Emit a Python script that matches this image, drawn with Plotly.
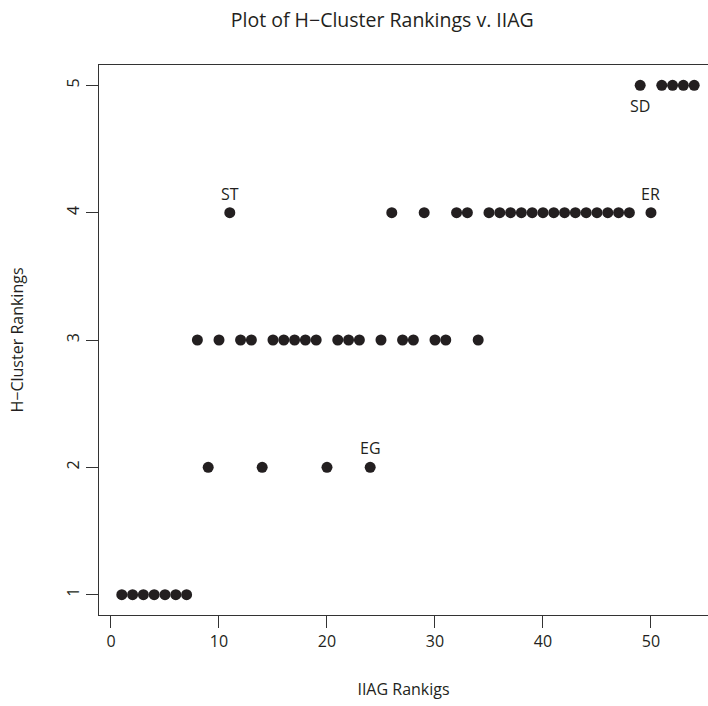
import plotly.graph_objects as go

# IIAG ranking (x) and hierarchical-cluster ranking (y) for each country
iiag_rank = list(range(1, 55))
cluster_rank = [
    1, 1, 1, 1, 1, 1, 1,          # 1-7
    3, 2, 3, 4, 3, 3, 2, 3, 3,    # 8-16
    3, 3, 3, 2, 3, 3, 3, 2, 3,    # 17-25
    4, 3, 3, 4, 3, 3, 4, 4, 3,    # 26-34
    4, 4, 4, 4, 4, 4, 4, 4, 4,    # 35-43
    4, 4, 4, 4, 4, 5, 4, 5, 5,    # 44-52
    5, 5,                         # 53-54
]

# Labelled countries: (code, IIAG rank, placement)
labels = [("ST", 11, "above"), ("EG", 24, "above"), ("ER", 50, "above"), ("SD", 49, "below")]

ink = "#231f20"
font_family = "Open Sans"

fig = go.Figure()
fig.add_trace(go.Scatter(
    x=iiag_rank, y=cluster_rank, mode="markers",
    marker=dict(size=11, color=ink, line=dict(width=0)),
    hoverinfo="x+y", showlegend=False,
))

for code, xr, where in labels:
    yv = cluster_rank[xr - 1]
    fig.add_annotation(
        x=xr, y=yv, text=code, showarrow=False,
        yshift=19 if where == "above" else -21,
        font=dict(family=font_family, size=16, color=ink),
    )

fig.update_layout(
    width=708, height=706,
    margin=dict(l=99, r=0, t=65, b=91),
    paper_bgcolor="white", plot_bgcolor="white",
    font=dict(family=font_family, size=16, color=ink),
    title=dict(text="Plot of H\u2212Cluster Rankings v. IIAG", x=0.54, xanchor="center",
               y=0.972, yanchor="middle", font=dict(size=19.5, color=ink)),
    xaxis=dict(
        range=[-1.11, 55.28], tickvals=[0, 10, 20, 30, 40, 50],
        showgrid=False, zeroline=False,
        showline=True, linecolor="#333333", linewidth=1.3, mirror=True,
        ticks="outside", ticklen=12, tickcolor="#333333", tickwidth=1.3,
        tickfont=dict(size=16, color=ink),
        title=dict(text="IIAG Rankigs", standoff=32, font=dict(size=16, color=ink)),
    ),
    yaxis=dict(
        range=[0.84, 5.16], tickvals=[1, 2, 3, 4, 5],
        showgrid=False, zeroline=False,
        showline=True, linecolor="#333333", linewidth=1.3,
        ticks="outside", ticklen=12, tickcolor="#333333", tickwidth=1.3,
        tickangle=-90, tickfont=dict(size=16, color=ink),
        title=dict(text="H\u2212Cluster Rankings", standoff=34, font=dict(size=16, color=ink)),
    ),
)

fig.write_html("out.html")
